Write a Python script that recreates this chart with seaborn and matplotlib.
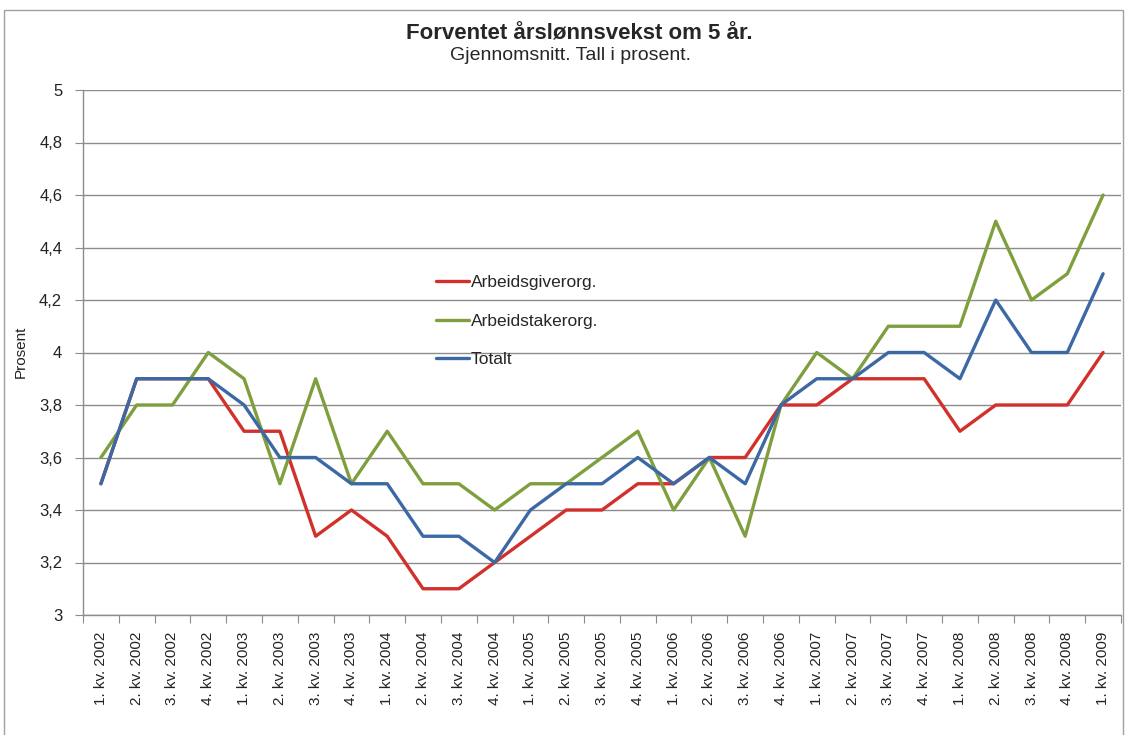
import numpy as np
import pandas as pd
import seaborn as sns
import matplotlib.pyplot as plt
from matplotlib.patches import Rectangle

# Quarter labels, 1. kv. 2002 - 1. kv. 2009
quarters = ["1. kv. 2002", "2. kv. 2002", "3. kv. 2002", "4. kv. 2002",
            "1. kv. 2003", "2. kv. 2003", "3. kv. 2003", "4. kv. 2003",
            "1. kv. 2004", "2. kv. 2004", "3. kv. 2004", "4. kv. 2004",
            "1. kv. 2005", "2. kv. 2005", "3. kv. 2005", "4. kv. 2005",
            "1. kv. 2006", "2. kv. 2006", "3. kv. 2006", "4. kv. 2006",
            "1. kv. 2007", "2. kv. 2007", "3. kv. 2007", "4. kv. 2007",
            "1. kv. 2008", "2. kv. 2008", "3. kv. 2008", "4. kv. 2008",
            "1. kv. 2009"]

arbeidsgiver = [3.5, 3.9, 3.9, 3.9, 3.7, 3.7, 3.3, 3.4, 3.3, 3.1, 3.1, 3.2,
                3.3, 3.4, 3.4, 3.5, 3.5, 3.6, 3.6, 3.8, 3.8, 3.9, 3.9, 3.9,
                3.7, 3.8, 3.8, 3.8, 4.0]
arbeidstaker = [3.6, 3.8, 3.8, 4.0, 3.9, 3.5, 3.9, 3.5, 3.7, 3.5, 3.5, 3.4,
                3.5, 3.5, 3.6, 3.7, 3.4, 3.6, 3.3, 3.8, 4.0, 3.9, 4.1, 4.1,
                4.1, 4.5, 4.2, 4.3, 4.6]
totalt = [3.5, 3.9, 3.9, 3.9, 3.8, 3.6, 3.6, 3.5, 3.5, 3.3, 3.3, 3.2,
          3.4, 3.5, 3.5, 3.6, 3.5, 3.6, 3.5, 3.8, 3.9, 3.9, 4.0, 4.0,
          3.9, 4.2, 4.0, 4.0, 4.3]

series_names = ["Arbeidsgiverorg.", "Arbeidstakerorg.", "Totalt"]
colors = ["#D2302B", "#7F9F3E", "#3C68A4"]

# long-form table for seaborn
rows = []
for name, vals in zip(series_names, [arbeidsgiver, arbeidstaker, totalt]):
    for i, v in enumerate(vals):
        rows.append({"pos": i, "serie": name, "verdi": v})
df = pd.DataFrame(rows)

sns.set_style("white")
plt.rcParams['font.family'] = ['Liberation Sans', 'DejaVu Sans']

fig = plt.figure(figsize=(11.28, 7.35), dpi=100)
ax = fig.add_axes([83 / 1128, 1 - 615 / 735, (1121 - 83) / 1128, (615 - 90) / 735])

sns.lineplot(data=df, x="pos", y="verdi", hue="serie", hue_order=series_names,
             palette=colors, linewidth=2.4, ax=ax)

# y axis
ax.set_ylim(3, 5)
yt = np.arange(3, 5.01, 0.2)
ax.set_yticks(yt)
ax.set_yticklabels([("%g" % round(v, 1)).replace(".", ",") for v in yt], fontsize=12, color="#222222")
ax.yaxis.grid(True, color="#8C8C8C", linewidth=1)
ax.set_axisbelow(True)

# x axis: ticks between categories, labels at centers
n = len(quarters)
ax.set_xlim(-0.5, n - 0.5)
ax.set_xticks(np.arange(-0.5, n, 1))
ax.set_xticklabels([])
ax.set_xticks(np.arange(n), minor=True)
ax.set_xticklabels(quarters, minor=True, rotation=90, fontsize=11, color="#222222")
ax.tick_params(axis="x", which="minor", length=0, pad=12)
ax.tick_params(axis="x", which="major", length=6, color="#8C8C8C", direction="out", bottom=True)
ax.tick_params(axis="y", length=6, color="#8C8C8C", direction="out", left=True, pad=9)

for side in ["top", "right"]:
    ax.spines[side].set_visible(False)
for side in ["left", "bottom"]:
    ax.spines[side].set_color("#8C8C8C")
    ax.spines[side].set_linewidth(1)

ax.set_xlabel("")
ax.set_ylabel("")

leg = ax.legend(loc="upper left", bbox_to_anchor=(0.325, 0.678), frameon=False,
                fontsize=12.5, handlelength=1.9, handletextpad=0.1, labelspacing=1.36)
for h in leg.get_lines():
    h.set_linewidth(2.4)

fig.text(21 / 1128, 1 - 352 / 735, "Prosent", rotation=90, ha="center", va="center",
         fontsize=11, color="#222222")
fig.text(579 / 1128, 1 - 34 / 735, "Forventet årslønnsvekst om 5 år.", ha="center",
         va="center", fontsize=16, fontweight="bold")
fig.text(570 / 1128, 1 - 56 / 735, "Gjennomsnitt. Tall i prosent.", ha="center",
         va="center", fontsize=14)

fig.patches.append(Rectangle((4 / 1128, -0.01), 1119 / 1128, 1 - 10 / 735 + 0.01,
                             transform=fig.transFigure, fill=False,
                             edgecolor="#A0A0A0", linewidth=1))

fig.savefig("out.png", dpi=100)
